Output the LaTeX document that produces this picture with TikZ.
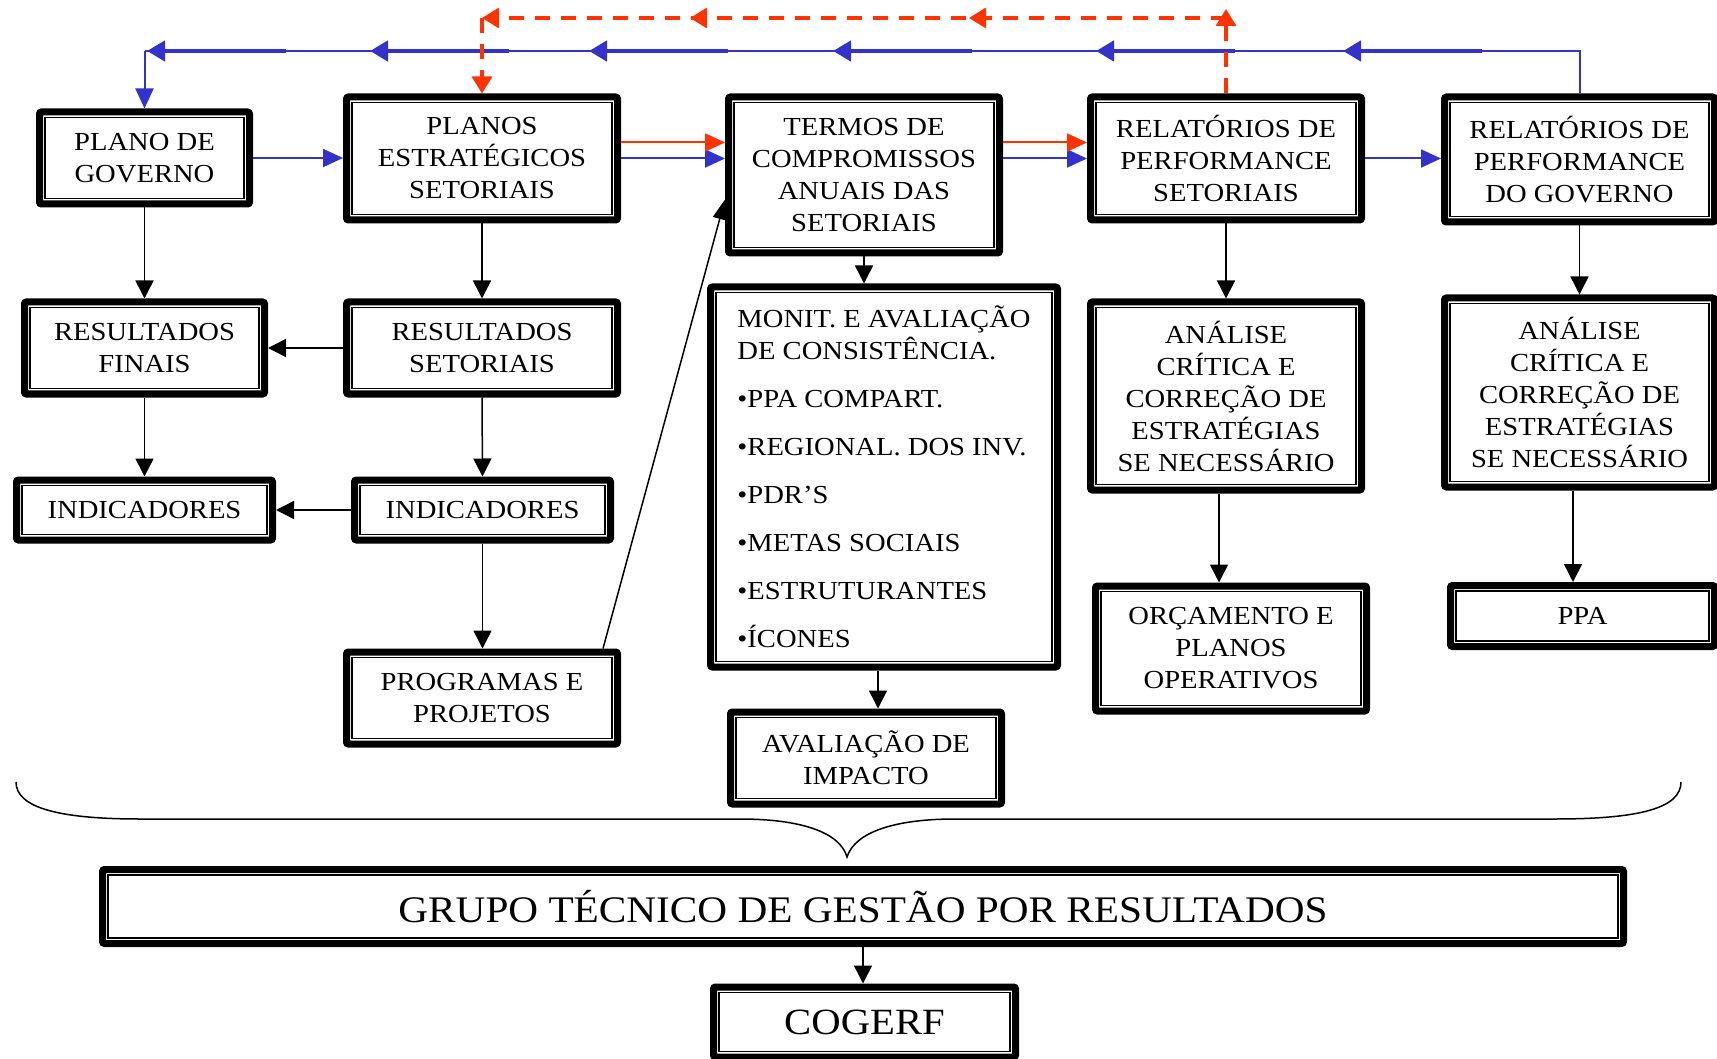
\documentclass[tikz,border=0pt]{standalone}
\usepackage{fontspec}
\setmainfont{Liberation Serif}[FakeStretch=1.1]
\usetikzlibrary{arrows.meta,calc,decorations.markings}
\definecolor{flowblue}{RGB}{51,51,204}
\definecolor{flowred}{RGB}{255,51,0}

\begin{document}
\begin{tikzpicture}[x=1pt,y=-1pt,
  box/.style n args={2}{draw=black, line width=7pt, rounded corners=2pt, fill=white,
    inner sep=0pt, align=center, font=\fontsize{26}{32}\selectfont,
    minimum width=#1-7, minimum height=#2-7},
  blk/.style={draw=black, line width=1.5pt, -{Triangle[length=18pt,width=18pt]}},
  blu/.style={draw=flowblue, line width=2pt, -{Triangle[length=20pt,width=18pt]}},
  bluthin/.style={draw=flowblue, line width=2pt},
  bluthick/.style={draw=flowblue, line width=4.5pt, -{Triangle[length=18pt,width=20pt]}},
  redarr/.style={draw=flowred, line width=2pt, -{Triangle[length=20pt,width=18pt]}},
  reddash/.style={draw=flowred, line width=3.3pt, dash pattern=on 15pt off 11pt},
  redtip/.style={-{Triangle[length=17pt,width=20pt]}},
  brace/.style={draw=black, line width=1.5pt}
]
\useasboundingbox (0,0) rectangle (1717,1059);

% ---- framed boxes ----
\node[box={217}{99}]  (gov)    at (144.5,158) {PLANO DE\\GOVERNO};
\node[box={278}{130}] (pes)    at (482,158.5)     {PLANOS\\ESTRATÉGICOS\\SETORIAIS};
\node[box={278}{163}] (termos) at (864,175)   {TERMOS DE\\COMPROMISSOS\\ANUAIS DAS\\SETORIAIS};
\node[box={278}{130}] (rps)    at (1226,158.5)    {RELATÓRIOS DE\\PERFORMANCE\\SETORIAIS};
\node[box={277}{132}] (rpg)    at (1579.5,159.5)  {RELATÓRIOS DE\\PERFORMANCE\\DO GOVERNO};
\node[box={247}{99}]  (rf)     at (144.5,348) {RESULTADOS\\FINAIS};
\node[box={278}{99}]  (rs)     at (482,348)   {RESULTADOS\\SETORIAIS};
\node[box={263}{67}]  (indl)   at (144.5,510) {INDICADORES};
\node[box={263}{67}]  (indr)   at (482.5,510) {INDICADORES};
\node[box={278}{99}]  (prog)   at (482,698)   {PROGRAMAS E\\PROJETOS};
\node[box={354}{387}, align=left, font=\fontsize{26}{32}\selectfont] (monit) at (884,477)
  {MONIT. E AVALIAÇÃO\\DE CONSISTÊNCIA.\\[16pt]•PPA COMPART.\\[16pt]•REGIONAL. DOS INV.\\[16pt]•PDR’S\\[16pt]•METAS SOCIAIS\\[16pt]•ESTRUTURANTES\\[16pt]•ÍCONES};
\node[box={278}{99}]  (aval)   at (866,758)   {AVALIAÇÃO DE\\IMPACTO};
\node[box={278}{195}] (an1)    at (1226,396)  {ANÁLISE\\CRÍTICA E\\CORREÇÃO DE\\ESTRATÉGIAS\\SE NECESSÁRIO};
\node[box={278}{132}] (orc)    at (1231,648.5)    {ORÇAMENTO E\\PLANOS\\OPERATIVOS};
\node[box={277}{196}] (an2)    at (1579.5,392.5)  {ANÁLISE\\CRÍTICA E\\CORREÇÃO DE\\ESTRATÉGIAS\\SE NECESSÁRIO};
\node[box={271}{68}]  (ppa)    at (1582.5,616)  {PPA};
\node[box={1528}{81}, font=\fontsize{37.5}{44}\selectfont] (grupo) at (863,906.5) {GRUPO TÉCNICO DE GESTÃO POR RESULTADOS};
\node[box={309}{77}, font=\fontsize{37}{44}\selectfont]  (cogerf) at (864.5,1022) {COGERF};

% thin inner line of every frame
\foreach \n in {gov,pes,termos,rps,rpg,rf,rs,indl,indr,prog,monit,aval,an1,orc,an2,ppa,grupo,cogerf}
  \draw[line width=1.5pt] ([shift={(8.8pt,-8.8pt)}]\n.north west) rectangle ([shift={(-8.8pt,8.8pt)}]\n.south east);

% ---- black connectors ----
\draw[blk] (gov.south) -- (rf.north);
\draw[blk] (rf.south) -- (indl.north);
\draw[blk] (pes.south) -- (rs.north);
\draw[blk] (rs.south) -- (indr.north);
\draw[blk] (indr.south) -- (indr.south |- prog.north);
\draw[blk] (rs.west) -- (rf.east);
\draw[blk] (indr.west) -- (indl.east);
\draw[blk, -{Triangle[length=20pt,width=14pt]}] ([xshift=-18pt]prog.north east) -- ([yshift=-24.5pt]termos.west);
\draw[blk] (termos.south) -- (termos.south |- monit.north);
\draw[blk] ([xshift=-6pt]monit.south) -- ([xshift=12pt]aval.north);
\draw[blk] (rps.south) -- (an1.north);
\draw[blk] ([xshift=-7pt]an1.south) -- ([xshift=-12pt]orc.north);
\draw[blk] (rpg.south) -- (an2.north);
\draw[blk] ([xshift=-6.5pt]an2.south) -- ([xshift=-9.5pt]ppa.north);
\draw[blk] (grupo.south) -- (grupo.south |- cogerf.north);

% ---- blue forward connectors ----
\draw[blu] (gov.east) -- (gov.east -| pes.west);
\draw[blu] (pes.east) -- (pes.east -| termos.west);
\draw[blu] (rps.west -| termos.east) -- (rps.west);
\draw[blu] (rps.east) -- (rps.east -| rpg.west);

% ---- red forward connectors ----
\draw[redarr] ([yshift=16pt]pes.east) -- ([yshift=16pt]pes.east -| termos.west);
\draw[redarr] ([yshift=16pt]rps.west -| termos.east) -- ([yshift=16pt]rps.west);

% ---- blue feedback line along the top ----
\coordinate (bluy) at (0,51);
\draw[bluthin] (rpg.north) -- (rpg.north |- bluy) -- (gov.north |- bluy);
\draw[blu] (gov.north |- bluy) -- (gov.north);
\foreach \t in {1343,1096,833,589,370,147}
  \draw[bluthick] ({\t+139},51) -- (\t,51);

% ---- red dashed feedback line ----
\coordinate (redy) at (0,18);
\coordinate (redtop) at (0,9);
\draw[reddash, redtip] (rps.north) -- (rps.north |- redtop);
\draw[reddash, redtip,
  decoration={markings,
    mark=at position 257pt with {\arrow{Triangle[length=17pt,width=20pt]}},
    mark=at position 536pt with {\arrow{Triangle[length=17pt,width=20pt]}}},
  postaction={decorate}]
  (rps.north |- redy) -- (pes.north |- redy);
\draw[reddash, redtip] (pes.north |- redy) -- (pes.north);

% ---- brace gathering everything above into the technical group ----
\draw[brace] (16,782) .. controls (16,808) and (60,819) .. (140,819)
  -- (740,819) .. controls (800,819) and (840,832) .. (847,857)
  .. controls (855,832) and (895,819) .. (955,819)
  -- (1555,819) .. controls (1640,819) and (1681,808) .. (1681,782);

\end{tikzpicture}
\end{document}
